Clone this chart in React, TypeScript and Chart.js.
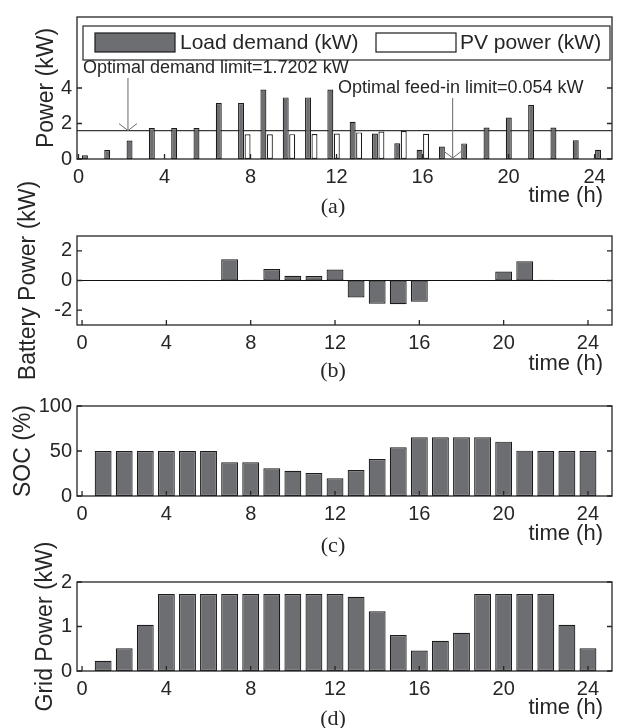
import React, { useEffect, useRef } from "react";
import { Chart, registerables } from "chart.js";
Chart.register(...registerables);

// ---------------- data ----------------
// panel (a): 24 hourly slots, load demand and PV power (kW)
const slotsA = [0, 1, 2, 3, 4, 5, 6, 7, 8, 9, 10, 11, 12, 13, 14, 15, 16, 17, 18, 19, 20, 21, 22, 23];
const loadDemand = [0.21, 0.51, 1.04, 1.74, 1.74, 1.74, 3.15, 3.15, 3.91, 3.47, 3.47, 3.91, 2.1, 1.43, 0.89, 0.52, 0.7, 0.88, 1.77, 2.34, 3.04, 1.77, 1.05, 0.52];
const pvPower = [0, 0, 0, 0, 0, 0, 0, 1.39, 1.39, 1.4, 1.41, 1.44, 1.5, 1.55, 1.58, 1.42, 0, 0, 0, 0, 0, 0, 0, 0];
// panels (b)-(d): hours 1..24
const hours = [1, 2, 3, 4, 5, 6, 7, 8, 9, 10, 11, 12, 13, 14, 15, 16, 17, 18, 19, 20, 21, 22, 23, 24];
const batteryPower = [0.02, 0.02, 0.02, 0.03, 0.04, 0.04, 1.43, 0.05, 0.78, 0.32, 0.3, 0.74, -1.15, -1.56, -1.6, -1.43, 0.02, 0.02, 0.04, 0.6, 1.29, 0.05, 0.02, 0.02];
const soc = [50, 50, 50, 50, 50, 50, 37.4, 37.4, 30.7, 28.1, 25.6, 19.6, 28.9, 41.1, 54.1, 65.2, 65.2, 65.2, 65.2, 60.4, 50.4, 50, 50, 50];
const gridPower = [0.23, 0.51, 1.04, 1.73, 1.73, 1.73, 1.73, 1.73, 1.73, 1.73, 1.73, 1.73, 1.67, 1.34, 0.81, 0.46, 0.68, 0.86, 1.73, 1.73, 1.73, 1.73, 1.04, 0.51];
// tick labels
const timeTicks = [0, 4, 8, 12, 16, 20, 24];
const powerTicks = [0, 2, 4];
const batteryTicks = [-2, 0, 2];
const socTicks = [0, 50, 100];
const gridTicks = [0, 1, 2];
// annotations (panel a)
const demandLimitLevel = 1.6;
const feedInLevel = 0.054;
const demandArrowTime = 2.3;
const feedInArrowTime = 17.4;
const demandLabel = "Optimal demand limit=1.7202 kW";
const feedInLabel = "Optimal feed-in limit=0.054 kW";
const legendLabels = ["Load demand (kW)", "PV power (kW)"];

// ---------------- style / layout ----------------
const FONT = "'Liberation Sans', Arial, Helvetica, sans-serif";
const SERIF = "'Liberation Serif', 'Times New Roman', serif";
const INK = "#262626";
const BAR = "#6d6e72";
const EDGE = "#1c1c1c";
const PAGE_W = 639;
const PLOT_LEFT = 77;
const PLOT_RIGHT = 612;
const TICK_SIZE = 20;
const YTITLE_SIZE = 23;

type Panel = {
  key: string;
  canvasTop: number;
  canvasH: number;
  plotTop: number;
  plotBottom: number;
  yTitle: string;
  yTitleCenter: number;
  timeBaseline: number;
  tag: string;
  tagCenter: number;
};

const panels: Panel[] = [
  { key: "a", canvasTop: 0, canvasH: 222, plotTop: 8, plotBottom: 159, yTitle: "Power (kW)", yTitleCenter: 47, timeBaseline: 202, tag: "(a)", tagCenter: 207 },
  { key: "b", canvasTop: 170, canvasH: 213, plotTop: 236, plotBottom: 325, yTitle: "Battery Power (kW)", yTitleCenter: 29, timeBaseline: 370, tag: "(b)", tagCenter: 371 },
  { key: "c", canvasTop: 383, canvasH: 180, plotTop: 406, plotBottom: 496, yTitle: "SOC (%)", yTitleCenter: 24, timeBaseline: 540, tag: "(c)", tagCenter: 546 },
  { key: "d", canvasTop: 540, canvasH: 188, plotTop: 582, plotBottom: 671, yTitle: "Grid Power (kW)", yTitleCenter: 46, timeBaseline: 714, tag: "(d)", tagCenter: 719 },
];

function yAxis(p: Panel, min: number, max: number, ticks: number[]) {
  return {
    type: "linear",
    position: "left",
    min,
    max,
    grid: { display: false, drawTicks: false },
    border: { display: false },
    afterBuildTicks: (ax: any) => {
      ax.ticks = ticks.map((v) => ({ value: v }));
    },
    afterFit: (ax: any) => {
      ax.width = PLOT_LEFT;
    },
    ticks: {
      font: { family: FONT, size: TICK_SIZE },
      color: INK,
      padding: 5,
      callback: (v: any) => String(v),
    },
    title: {
      display: true,
      text: p.yTitle,
      font: { family: FONT, size: YTITLE_SIZE },
      color: INK,
      padding: { top: p.yTitleCenter - (YTITLE_SIZE * 1.2) / 2, bottom: 0 },
    },
  };
}

function xAxis(p: Panel, min: number, max: number) {
  return {
    type: "linear",
    position: "bottom",
    min,
    max,
    offset: false,
    grid: { display: false, drawTicks: false },
    border: { display: false },
    afterBuildTicks: (ax: any) => {
      ax.ticks = timeTicks.map((v) => ({ value: v }));
    },
    afterFit: (ax: any) => {
      ax.height = p.canvasH - (p.plotBottom - p.canvasTop);
    },
    ticks: {
      font: { family: FONT, size: TICK_SIZE },
      color: INK,
      padding: 6,
      maxRotation: 0,
      autoSkip: false,
      callback: (v: any) => String(v),
    },
  };
}

function framePlugin(p: Panel, extra?: (chart: any) => void, under?: (chart: any) => void) {
  return {
    id: "frame" + p.key,
    beforeDatasetsDraw(chart: any) {
      if (under) under(chart);
    },
    afterDraw(chart: any) {
      const { ctx, chartArea: a, scales } = chart;
      const x = scales.x;
      const y = scales.y;
      ctx.save();
      ctx.strokeStyle = INK;
      ctx.lineWidth = 1.3;
      ctx.strokeRect(a.left, a.top, a.right - a.left, a.bottom - a.top);
      ctx.beginPath();
      x.ticks.forEach((t: any) => {
        const px = x.getPixelForValue(t.value);
        ctx.moveTo(px, a.bottom);
        ctx.lineTo(px, a.bottom - 5);
      });
      y.ticks.forEach((t: any) => {
        const py = y.getPixelForValue(t.value);
        ctx.moveTo(a.left, py);
        ctx.lineTo(a.left + 5, py);
        ctx.moveTo(a.right, py);
        ctx.lineTo(a.right - 5, py);
      });
      ctx.stroke();
      // x label and panel tag
      ctx.fillStyle = INK;
      ctx.font = `22px ${FONT}`;
      ctx.textAlign = "right";
      ctx.textBaseline = "alphabetic";
      ctx.fillText("time (h)", a.right - 9, p.timeBaseline - p.canvasTop);
      ctx.font = `22px ${SERIF}`;
      ctx.textAlign = "center";
      ctx.textBaseline = "middle";
      ctx.fillText(p.tag, a.left + 256, p.tagCenter - p.canvasTop);
      ctx.restore();
      if (extra) extra(chart);
    },
  };
}

function barDataset(label: string, xs: number[], ys: number[], fill: string, extra: any = {}) {
  return {
    type: "bar",
    label,
    data: xs.map((x, i) => ({ x, y: ys[i] })),
    backgroundColor: fill,
    borderColor: EDGE,
    borderWidth: 1.2,
    borderSkipped: false,
    ...extra,
  };
}

function drawArrow(ctx: any, x: number, y0: number, y1: number) {
  ctx.save();
  ctx.strokeStyle = "#6a6a6a";
  ctx.lineWidth = 1;
  ctx.beginPath();
  ctx.moveTo(x, y0);
  ctx.lineTo(x, y1);
  ctx.moveTo(x - 9, y1 - 7);
  ctx.lineTo(x, y1);
  ctx.lineTo(x + 9, y1 - 7);
  ctx.stroke();
  ctx.restore();
}

function configA(p: Panel) {
  const under = (chart: any) => {
    const { ctx, chartArea: a, scales } = chart;
    const py = scales.y.getPixelForValue(demandLimitLevel);
    ctx.save();
    ctx.strokeStyle = "#3a3a3a";
    ctx.lineWidth = 1.3;
    ctx.beginPath();
    ctx.moveTo(a.left, py);
    ctx.lineTo(a.right, py);
    ctx.stroke();
    ctx.restore();
  };
  const extra = (chart: any) => {
    const { ctx, chartArea: a, scales } = chart;
    const x = scales.x;
    const y = scales.y;
    // legend
    ctx.save();
    const lx0 = a.left + 6;
    const ly0 = a.top + 9;
    const lx1 = a.right - 2;
    const ly1 = a.top + 43;
    ctx.fillStyle = "#fff";
    ctx.fillRect(lx0, ly0, lx1 - lx0, ly1 - ly0);
    ctx.strokeStyle = INK;
    ctx.lineWidth = 1.2;
    ctx.strokeRect(lx0, ly0, lx1 - lx0, ly1 - ly0);
    const items = [
      { sw: a.left + 18, tx: a.left + 103 },
      { sw: a.left + 299, tx: a.left + 383 },
    ];
    items.forEach((it, i) => {
      const ds = chart.data.datasets[i];
      ctx.fillStyle = ds.backgroundColor;
      ctx.fillRect(it.sw, a.top + 16, 80, 19);
      ctx.strokeStyle = EDGE;
      ctx.lineWidth = 1.2;
      ctx.strokeRect(it.sw, a.top + 16, 80, 19);
      ctx.fillStyle = INK;
      ctx.font = `21px ${FONT}`;
      ctx.textAlign = "left";
      ctx.textBaseline = "middle";
      ctx.fillText(ds.label, it.tx, a.top + 26);
    });
    // annotation texts
    ctx.font = `18px ${FONT}`;
    ctx.textBaseline = "alphabetic";
    ctx.fillStyle = INK;
    ctx.fillText(demandLabel, a.left + 6, 73 - p.canvasTop);
    ctx.fillText(feedInLabel, a.left + 261, 93 - p.canvasTop);
    ctx.restore();
    // arrows
    drawArrow(ctx, x.getPixelForValue(demandArrowTime), 78 - p.canvasTop, y.getPixelForValue(demandLimitLevel));
    drawArrow(ctx, x.getPixelForValue(feedInArrowTime), 98 - p.canvasTop, y.getPixelForValue(feedInLevel));
  };
  return {
    data: {
      datasets: [
        barDataset(legendLabels[0], slotsA, loadDemand, BAR, { xAxisID: "xb", categoryPercentage: 0.58, barPercentage: 0.92 }),
        barDataset(legendLabels[1], slotsA, pvPower, "#ffffff", { xAxisID: "xb", categoryPercentage: 0.58, barPercentage: 0.92 }),
      ],
    },
    options: {
      scales: {
        x: xAxis(p, -0.07, 24.81),
        xb: { type: "linear", display: false, min: -0.5, max: 23.48, offset: false },
        y: yAxis(p, 0, 8, powerTicks),
      },
    },
    plugins: [framePlugin(p, extra, under)],
  };
}

function configSimple(p: Panel, vals: number[], min: number, max: number, ticks: number[], baseline: boolean) {
  const under = baseline
    ? (chart: any) => {
        const { ctx, chartArea: a, scales } = chart;
        const py = scales.y.getPixelForValue(0);
        ctx.save();
        ctx.strokeStyle = "#111";
        ctx.lineWidth = 1.2;
        ctx.beginPath();
        ctx.moveTo(a.left, py);
        ctx.lineTo(a.right, py);
        ctx.stroke();
        ctx.restore();
      }
    : undefined;
  return {
    data: {
      datasets: [barDataset(p.yTitle, hours, vals, BAR, { categoryPercentage: 1, barPercentage: 0.8 })],
    },
    options: {
      scales: {
        x: xAxis(p, -0.24, 25.14),
        y: yAxis(p, min, max, ticks),
      },
    },
    plugins: [framePlugin(p, undefined, under)],
  };
}

function build(p: Panel, canvas: HTMLCanvasElement) {
  let cfg: any;
  if (p.key === "a") cfg = configA(p);
  else if (p.key === "b") cfg = configSimple(p, batteryPower, -3, 3, batteryTicks, true);
  else if (p.key === "c") cfg = configSimple(p, soc, 0, 100, socTicks, false);
  else cfg = configSimple(p, gridPower, 0, 2, gridTicks, false);
  return new Chart(canvas, {
    type: "bar",
    data: cfg.data,
    options: {
      responsive: false,
      animation: false,
      devicePixelRatio: 1,
      layout: {
        padding: {
          left: 0,
          right: PAGE_W - PLOT_RIGHT,
          top: p.plotTop - p.canvasTop,
          bottom: 0,
        },
      },
      plugins: {
        legend: { display: false },
        title: { display: false },
        tooltip: { enabled: false },
      },
      ...cfg.options,
    },
    plugins: cfg.plugins,
  } as any);
}

export default function App() {
  const refs = useRef<(HTMLCanvasElement | null)[]>([]);
  useEffect(() => {
    const charts = panels.map((p, i) => build(p, refs.current[i] as HTMLCanvasElement));
    return () => charts.forEach((c) => c.destroy());
  }, []);
  return (
    <div style={{ position: "absolute", left: 0, top: 0, width: PAGE_W, height: 728, background: "#fff", overflow: "hidden" }}>
      {panels.map((p, i) => (
        <canvas
          key={p.key}
          ref={(el) => {
            refs.current[i] = el;
          }}
          width={PAGE_W}
          height={p.canvasH}
          style={{ position: "absolute", left: 0, top: p.canvasTop, width: PAGE_W, height: p.canvasH }}
        />
      ))}
    </div>
  );
}
